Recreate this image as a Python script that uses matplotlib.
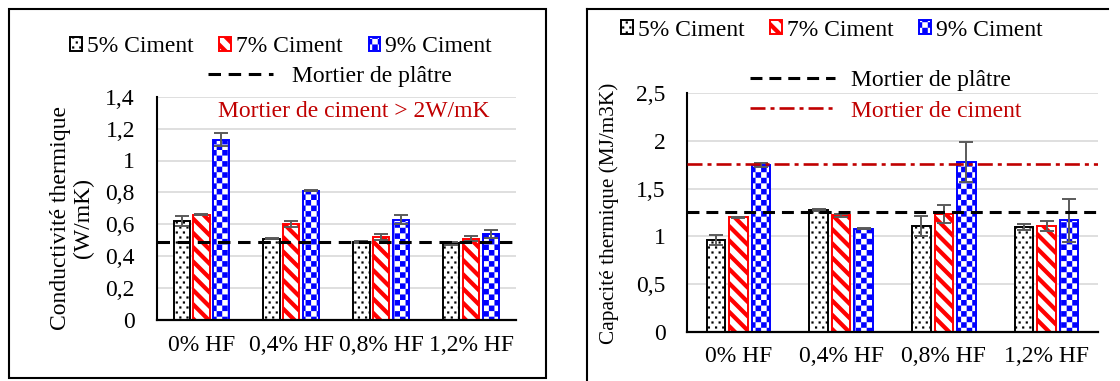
import numpy as np
import matplotlib
matplotlib.use('Agg')
import matplotlib.pyplot as plt
import matplotlib.hatch as mhatch
from matplotlib.path import Path
from matplotlib.lines import Line2D
from matplotlib.patches import Rectangle

# ---------------- data ----------------
categories = ['0% HF', '0,4% HF', '0,8% HF', '1,2% HF']
series_labels = ['5% Ciment', '7% Ciment', '9% Ciment']

cond_5 = [0.62, 0.51, 0.49, 0.48]
cond_7 = [0.66, 0.60, 0.52, 0.51]
cond_9 = [1.13, 0.81, 0.63, 0.54]
cond_err_5 = [0.03, 0.005, 0.005, 0.01]
cond_err_7 = [0.003, 0.02, 0.02, 0.015]
cond_err_9 = [0.04, 0.003, 0.03, 0.025]
cond_platre = 0.49
cond_note = 'Mortier de ciment > 2W/mK'
cond_ylabel = 'Conductivité thermique\n(W/mK)'
cond_yticks = [0, 0.2, 0.4, 0.6, 0.8, 1.0, 1.2, 1.4]
cond_yticklabels = ['0', '0,2', '0,4', '0,6', '0,8', '1', '1,2', '1,4']

cap_5 = [0.96, 1.28, 1.11, 1.10]
cap_7 = [1.20, 1.22, 1.23, 1.11]
cap_9 = [1.75, 1.08, 1.78, 1.17]
cap_err_5 = [0.05, 0.01, 0.105, 0.03]
cap_err_7 = [0.005, 0.015, 0.095, 0.05]
cap_err_9 = [0.02, 0.003, 0.21, 0.225]
cap_platre = 1.25
cap_ciment = 1.76
cap_ylabel = 'Capacité thermique (MJ/m3K)'
cap_yticks = [0, 0.5, 1.0, 1.5, 2.0, 2.5]
cap_yticklabels = ['0', '0,5', '1', '1,5', '2', '2,5']

line_labels = ['Mortier de plâtre', 'Mortier de ciment']

# ---------------- custom fill patterns ----------------
SQ = [Path.MOVETO, Path.LINETO, Path.LINETO, Path.LINETO, Path.CLOSEPOLY]


class _SquareDots(mhatch.HatchPatternBase):
    cols, rows, size = 14, 20, 0.022

    def __init__(self, hatch, density):
        self.num_vertices = self.cols * self.rows * 5 if '.' in hatch else 0

    def set_vertices_and_codes(self, vertices, codes):
        k = 0
        h = self.size / 2
        for j in range(self.rows):
            cy = (j + 0.5) / self.rows
            for i in range(self.cols):
                cx = (i + 0.25 + 0.5 * (j % 2)) / self.cols
                vertices[k:k + 5] = [(cx - h, cy - h), (cx + h, cy - h), (cx + h, cy + h),
                                     (cx - h, cy + h), (cx - h, cy - h)]
                codes[k:k + 5] = SQ
                k += 5


class _Checker(mhatch.HatchPatternBase):
    m = 18

    def __init__(self, hatch, density):
        self.num_vertices = (self.m * self.m // 2) * 5 if '*' in hatch else 0

    def set_vertices_and_codes(self, vertices, codes):
        s = 1.0 / self.m
        k = 0
        for j in range(self.m):
            for i in range(self.m):
                if (i + j) % 2 == 0:
                    x0, y0 = i * s, j * s
                    vertices[k:k + 5] = [(x0, y0), (x0 + s, y0), (x0 + s, y0 + s),
                                         (x0, y0 + s), (x0, y0)]
                    codes[k:k + 5] = SQ
                    k += 5


class _Stripes(mhatch.HatchPatternBase):
    n, frac = 7, 0.42

    def __init__(self, hatch, density):
        self.ks = list(range(-1, 2 * self.n + 2))
        self.num_vertices = len(self.ks) * 5 if '\\' in hatch else 0

    def set_vertices_and_codes(self, vertices, codes):
        w = self.frac / self.n
        k = 0
        for kk in self.ks:
            c = kk / self.n
            vertices[k:k + 5] = [(0, c), (1, c - 1), (1, c - 1 + w), (0, c + w), (0, c)]
            codes[k:k + 5] = SQ
            k += 5


mhatch._hatch_types = [_SquareDots, _Checker, _Stripes]

# ---------------- style ----------------
plt.rcParams['font.family'] = ['Liberation Serif', 'DejaVu Serif']
plt.rcParams['font.size'] = 17
plt.rcParams['hatch.linewidth'] = 0.0
plt.rcParams['lines.scale_dashes'] = False

W, H = 1120, 381
fig = plt.figure(figsize=(W / 100, H / 100), dpi=100)

STYLES = [dict(facecolor='white', edgecolor='black', hatch='.'),
          dict(facecolor='white', edgecolor='#FF0000', hatch='\\'),
          dict(facecolor='white', edgecolor='#0000FF', hatch='*')]
STEP, BW = 0.22, 0.18
ERR_KW = dict(ecolor='#5a5a5a', elinewidth=1.4, capsize=5, capthick=1.4, zorder=4)
RED = '#C00000'


def fx(px):
    return px / W


def fy(py):
    return 1 - py / H


def setup_axes(rect, yticks, yticklabels):
    ax = fig.add_axes(rect)
    ax.set_xlim(-0.5, len(categories) - 0.5)
    ax.set_ylim(yticks[0], yticks[-1])
    ax.set_yticks(yticks)
    ax.set_yticklabels(yticklabels)
    ax.set_xticks(np.arange(len(categories)))
    ax.set_xticklabels(categories)
    ax.tick_params(axis='y', length=0, pad=15.5)
    ax.tick_params(axis='x', length=0, pad=10.5)
    ax.grid(axis='y', color='#D9D9D9', linewidth=1.2)
    ax.set_axisbelow(True)
    for s in ('top', 'right'):
        ax.spines[s].set_visible(False)
    ax.spines['left'].set_linewidth(1.5)
    ax.spines['bottom'].set_linewidth(1.6)
    return ax


def draw_bars(ax, vals_list, errs_list):
    x = np.arange(len(categories))
    bars = []
    for k, (vals, errs, st, lab) in enumerate(zip(vals_list, errs_list, STYLES, series_labels)):
        b = ax.bar(x + (k - 1) * STEP, vals, BW, yerr=errs, label=lab, linewidth=1.4,
                   error_kw=ERR_KW, zorder=2, **st)
        bars.append(b)
    return bars


def bar_legend(ax, bars, cx, cy):
    leg = ax.legend(handles=bars, loc='center', bbox_to_anchor=(fx(cx), fy(cy)),
                    bbox_transform=fig.transFigure, ncol=3, frameon=False,
                    handlelength=0.5, handleheight=0.5, handletextpad=0.2,
                    columnspacing=1.1, borderpad=0, borderaxespad=0)
    ax.add_artist(leg)
    return leg


# ---------------- left chart ----------------
axL = setup_axes([fx(156.5), fy(320), (516 - 156.5) / W, (320 - 96.7) / H],
                 cond_yticks, cond_yticklabels)
barsL = draw_bars(axL, [cond_5, cond_7, cond_9], [cond_err_5, cond_err_7, cond_err_9])
lp = axL.axhline(cond_platre, color='black', linewidth=2.2, linestyle=(0, (9, 5.5)),
                 dash_capstyle='butt', zorder=5, label=line_labels[0])
bar_legend(axL, barsL, 281, 46.7)
axL.legend(handles=[lp], loc='center', bbox_to_anchor=(fx(330), fy(76)),
           bbox_transform=fig.transFigure, frameon=False, handlelength=2.75,
           handletextpad=0.8, borderpad=0, borderaxespad=0)
fig.text(fx(353.5), fy(111.7), cond_note, color=RED, ha='center', va='center')
fig.text(fx(72), fy(218.5), cond_ylabel, rotation=90, ha='center', va='center',
         multialignment='center', linespacing=1.15)

# ---------------- right chart ----------------
axR = setup_axes([fx(687), fy(331.7), (1098 - 687) / W, (331.7 - 93.3) / H],
                 cap_yticks, cap_yticklabels)
barsR = draw_bars(axR, [cap_5, cap_7, cap_9], [cap_err_5, cap_err_7, cap_err_9])
rp = axR.axhline(cap_platre, color='black', linewidth=2.2, linestyle=(0, (8.6, 5)),
                 dash_capstyle='butt', zorder=5, label=line_labels[0])
rc = axR.axhline(cap_ciment, color=RED, linewidth=1.9, linestyle=(0, (10.8, 3.6, 2.9, 3.6)),
                 dash_capstyle='butt', zorder=5, label=line_labels[1])
bar_legend(axR, barsR, 831.7, 30)
legR = axR.legend(handles=[rp, rc], loc='center', bbox_to_anchor=(fx(885.5), fy(95.5)),
                  bbox_transform=fig.transFigure, frameon=False, handlelength=3.6,
                  handletextpad=0.7, labelspacing=0.4, borderpad=0, borderaxespad=0)
legR.get_texts()[1].set_color(RED)
fig.text(fx(609), fy(213), cap_ylabel, rotation=90, ha='center', va='center', fontsize=15.3)

# ---------------- frames ----------------
fig.add_artist(Rectangle((fx(9), fy(378)), (546 - 9) / W, (378 - 9) / H,
                         transform=fig.transFigure, fill=False, edgecolor='black', linewidth=1.5))
fig.add_artist(Line2D([fx(587), fx(587)], [0, fy(9)], transform=fig.transFigure,
                      color='black', linewidth=1.5))
fig.add_artist(Line2D([fx(587), fx(1108)], [fy(9), fy(9)], transform=fig.transFigure,
                      color='black', linewidth=1.5))

fig.savefig('out.png', dpi=100)
